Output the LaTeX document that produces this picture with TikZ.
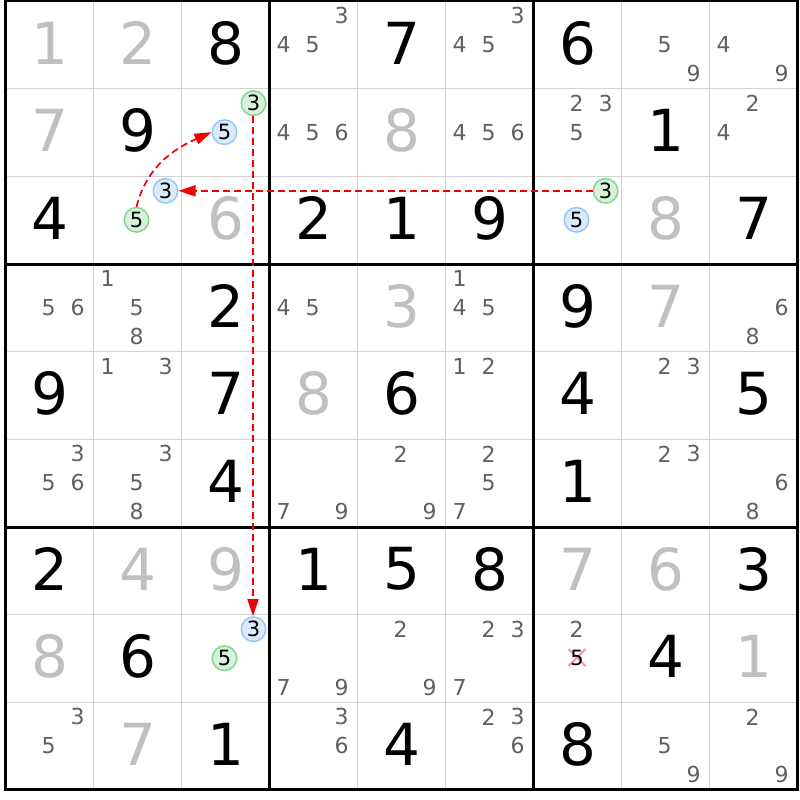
\documentclass[tikz,border=0pt]{standalone}
\usepackage{fontspec}
\setmainfont{DejaVu Sans}
\usetikzlibrary{arrows.meta}
\definecolor{givgray}{RGB}{192,192,192}
\definecolor{candgray}{RGB}{96,96,96}
\definecolor{thingray}{RGB}{210,210,210}
\definecolor{hibluefill}{RGB}{218,234,252}
\definecolor{hiblueline}{RGB}{150,200,245}
\definecolor{higreenfill}{RGB}{214,242,216}
\definecolor{higreenline}{RGB}{130,215,145}
\definecolor{linkred}{RGB}{240,0,0}
\definecolor{strikered}{RGB}{250,150,160}
\tikzset{
  bignum/.style={inner sep=0pt, font=\fontsize{58}{60}\selectfont},
  cand/.style={inner sep=0pt, text=candgray, font=\fontsize{22}{24}\selectfont},
  hib/.style={circle, minimum size=24.5pt, inner sep=0pt, fill=hibluefill, draw=hiblueline, line width=1.5pt, font=\fontsize{21}{22}\selectfont},
  hig/.style={circle, minimum size=24.5pt, inner sep=0pt, fill=higreenfill, draw=higreenline, line width=1.5pt, font=\fontsize{21}{22}\selectfont},
  thingrid/.style={draw=thingray, line width=1.5pt},
  thickgrid/.style={draw=black, line width=3pt},
  chainarrow/.style={draw=linkred, line width=1.7pt, dash pattern=on 7pt off 4pt, -{Triangle[length=17pt,width=11pt]}},
  strike/.style={draw=strikered, line width=2pt}
}
\newcommand\sdBig[4]{\node[bignum,text=#4] (b#1#2) at ({49.5+88*#2},{757-87.67*#1}) {#3};}
\newcommand\sdCand[3]{%
  \pgfmathsetmacro\sdx{19.5+88*#2+29*mod(#3-1,3)}%
  \pgfmathsetmacro\sdy{784.5-87.67*#1-29*floor((#3-1)/3)}%
  \node[cand] (c#1#2#3) at (\sdx,\sdy) {#3};}
\newcommand\sdHi[4]{%
  \pgfmathsetmacro\sdx{19.5+88*#2+29*mod(#3-1,3)}%
  \pgfmathsetmacro\sdy{784.5-87.67*#1-29*floor((#3-1)/3)}%
  \node[#4] (h#1#2#3) at (\sdx,\sdy) {#3};}
\begin{document}
\begin{tikzpicture}[x=1pt,y=1pt]
\useasboundingbox (0,0) rectangle (800,800);
\fill[white] (0,0) rectangle (800,800);
% thin grid lines
\foreach \i in {1,2,4,5,7,8} {
  \draw[thingrid] ({5.5+88*\i},799) -- ({5.5+88*\i},10);
  \draw[thingrid] (5.5,{799-87.67*\i}) -- (797.5,{799-87.67*\i});
}
% thick grid lines
\foreach \i in {3,6} {
  \draw[thickgrid] ({5.5+88*\i},799) -- ({5.5+88*\i},10);
  \draw[thickgrid] (5.5,{799-87.67*\i}) -- (797.5,{799-87.67*\i});
}
\draw[thickgrid] (5.5,10) rectangle (797.5,799);
% big digits
\foreach \r/\c/\d/\col in {
  0/0/1/givgray,0/1/2/givgray,0/2/8/black,0/4/7/black,0/6/6/black,
  1/0/7/givgray,1/1/9/black,1/4/8/givgray,1/7/1/black,
  2/0/4/black,2/2/6/givgray,2/3/2/black,2/4/1/black,2/5/9/black,2/7/8/givgray,2/8/7/black,
  3/2/2/black,3/4/3/givgray,3/6/9/black,3/7/7/givgray,
  4/0/9/black,4/2/7/black,4/3/8/givgray,4/4/6/black,4/6/4/black,4/8/5/black,
  5/2/4/black,5/6/1/black,
  6/0/2/black,6/1/4/givgray,6/2/9/givgray,6/3/1/black,6/4/5/black,6/5/8/black,6/6/7/givgray,6/7/6/givgray,6/8/3/black,
  7/0/8/givgray,7/1/6/black,7/7/4/black,7/8/1/givgray,
  8/1/7/givgray,8/2/1/black,8/4/4/black,8/6/8/black}
  {\sdBig{\r}{\c}{\d}{\col}}
% candidates
\foreach \r/\c/\ks in {
  0/3/{3,4,5},0/5/{3,4,5},0/7/{5,9},0/8/{4,9},
  1/3/{4,5,6},1/5/{4,5,6},1/6/{2,3,5},1/8/{2,4},
  3/0/{5,6},3/1/{1,5,8},3/3/{4,5},3/5/{1,4,5},3/8/{6,8},
  4/1/{1,3},4/5/{1,2},4/7/{2,3},
  5/0/{3,5,6},5/1/{3,5,8},5/3/{7,9},5/4/{2,9},5/5/{2,5,7},5/7/{2,3},5/8/{6,8},
  7/3/{7,9},7/4/{2,9},7/5/{2,3,7},7/6/{2},
  8/0/{3,5},8/3/{3,6},8/5/{2,3,6},8/7/{5,9},8/8/{2,9}}
  {\foreach \k in \ks {\sdCand{\r}{\c}{\k}}}
% eliminated candidate
\coordinate (x765) at (577,142.5);
\draw[strike] ([shift={(-8.5,-8.5)}]x765) -- ([shift={(8.5,8.5)}]x765);
\draw[strike] ([shift={(-8.5,8.5)}]x765) -- ([shift={(8.5,-8.5)}]x765);
\node[inner sep=0pt, font=\fontsize{21}{22}\selectfont] (c765) at (x765) {5};
% highlighted candidates
\sdHi{1}{2}{3}{hig}
\sdHi{1}{2}{5}{hib}
\sdHi{2}{1}{3}{hib}
\sdHi{2}{1}{5}{hig}
\sdHi{2}{6}{3}{hig}
\sdHi{2}{6}{5}{hib}
\sdHi{7}{2}{3}{hib}
\sdHi{7}{2}{5}{hig}
% links
\draw[chainarrow] (h263.west) -- (h213.east);
\draw[chainarrow] ([xshift=-0.5pt]h123.south) -- ([xshift=-0.5pt]h723.north);
\draw[chainarrow] (h215.north) to[out=76,in=204] (h125.west);
\end{tikzpicture}
\end{document}
